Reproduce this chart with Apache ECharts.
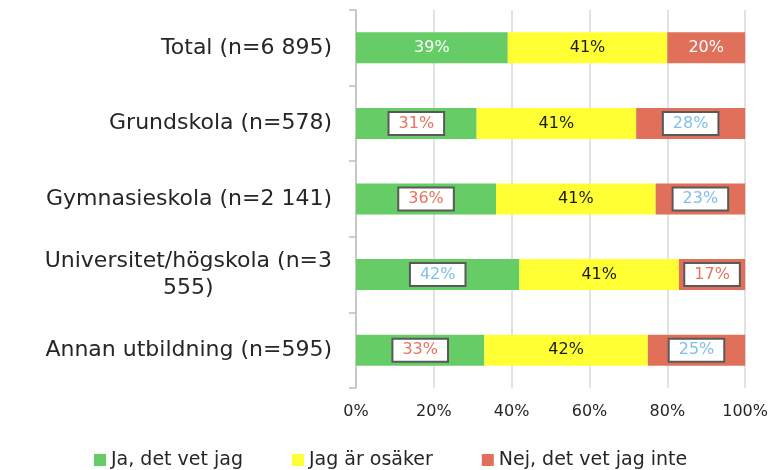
<!DOCTYPE html>
<html>
<head>
<meta charset="utf-8">
<script src="https://cdn.jsdelivr.net/npm/echarts@6/dist/echarts.min.js"></script>
<style>
  html, body { margin: 0; padding: 0; background: #fff; }
  #chart { width: 771px; height: 470px; }
</style>
</head>
<body>
<div id="chart"></div>
<script>
// kategorier, uppifrån och ned
const categories = [
  'Total (n=6 895)',
  'Grundskola (n=578)',
  'Gymnasieskola (n=2 141)',
  'Universitet/högskola (n=3\n555)',
  'Annan utbildning (n=595)'
]
const seriesNames = ['Ja, det vet jag', 'Jag är osäker', 'Nej, det vet jag inte']
const jaValues = [39, 31, 36, 42, 33]
const osakerValues = [41, 41, 41, 41, 42]
const nejValues = [20, 28, 23, 17, 25]
const xTicks = [0, 20, 40, 60, 80, 100]

const font = 'DejaVu Sans'
const colors = ['#66cc66', '#ffff33', '#e0705a']
const boxRed = '#e8735f'
const boxBlue = '#7ec0e6'
// textfärg i de inramade etiketterna (rad 0 saknar ram)
const jaBoxColors = [null, boxRed, boxRed, boxBlue, boxRed]
const nejBoxColors = [null, boxBlue, boxBlue, boxRed, boxBlue]

function plainLabel(color) {
  return { show: true, color: color, fontFamily: font, fontSize: 16, formatter: '{c}%' }
}
function boxLabel(color) {
  return {
    show: true, color: color, fontFamily: font, fontSize: 16, formatter: '{c}%',
    backgroundColor: '#fff', borderColor: '#595959', borderWidth: 2,
    padding: [2, 9, 1, 9], lineHeight: 18
  }
}
function buildData(values, boxColors, plainColor) {
  return values.map((v, i) => {
    if (!boxColors || !boxColors[i]) return { value: v, label: plainLabel(plainColor) }
    return { value: v, label: boxLabel(boxColors[i]) }
  })
}

const catFont = { fontFamily: font, fontSize: 22, color: '#262626', lineHeight: 27 }

const chart = echarts.init(document.getElementById('chart'), null, { renderer: 'canvas' })
const baseSeries = { type: 'bar', stack: 'total', barWidth: '41%', label: { position: 'inside' } }

chart.setOption({
  animation: false,
  textStyle: { fontFamily: font },
  grid: { left: 356, right: 25, top: 10, bottom: 82, containLabel: false },
  legend: {
    data: seriesNames,
    left: 94, top: 450, padding: 0,
    icon: 'rect', itemWidth: 12, itemHeight: 12, itemGap: 49,
    textStyle: { fontFamily: font, fontSize: 19, color: '#262626', lineHeight: 20 }
  },
  xAxis: {
    type: 'value', min: xTicks[0], max: xTicks[xTicks.length - 1], interval: 20,
    axisLine: { show: false }, axisTick: { show: false },
    splitLine: { lineStyle: { color: '#d9d9d9', width: 1.5 } },
    axisLabel: { formatter: '{value}%', fontFamily: font, fontSize: 16, color: '#262626', margin: 16 }
  },
  yAxis: {
    type: 'category', data: categories, inverse: true,
    axisLine: { lineStyle: { color: '#bfbfbf', width: 1.5 } },
    axisTick: { show: true, length: 7, lineStyle: { color: '#bfbfbf', width: 1.5 } },
    axisLabel: Object.assign({}, catFont, {
      margin: 24, align: 'right',
      // radbrutna etiketter centreras rad för rad
      formatter: v => v.indexOf('\n') < 0 ? v : v.split('\n').map(l => '{c|' + l + '}').join('\n'),
      rich: { c: Object.assign({ align: 'center' }, catFont) }
    })
  },
  series: [
    Object.assign({}, baseSeries, {
      name: seriesNames[0], itemStyle: { color: colors[0] },
      data: buildData(jaValues, jaBoxColors, '#fff')
    }),
    Object.assign({}, baseSeries, {
      name: seriesNames[1], itemStyle: { color: colors[1] },
      data: buildData(osakerValues, null, '#1a1a1a')
    }),
    Object.assign({}, baseSeries, {
      name: seriesNames[2], itemStyle: { color: colors[2] },
      data: buildData(nejValues, nejBoxColors, '#fff')
    })
  ]
})
</script>
</body>
</html>
